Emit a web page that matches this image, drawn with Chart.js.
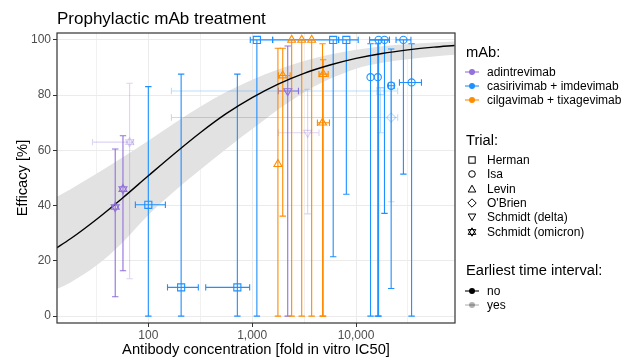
<!DOCTYPE html>
<html>
<head>
<meta charset="utf-8">
<script src="https://cdn.jsdelivr.net/npm/chart.js@4.4.1/dist/chart.umd.min.js"></script>
<style>
  html, body { margin: 0; padding: 0; background: #fff; }
  #wrap { position: relative; width: 635px; height: 362px; font-family: "Liberation Sans", Arial, Helvetica, sans-serif; }
  #chart { position: absolute; left: 0; top: 0; }
  .lg { position: absolute; left: 466px; white-space: nowrap; color: #000; }
  .lt { font-size: 14.7px; line-height: 17px; }
  .li { font-size: 12px; line-height: 14px; left: 465px; display: flex; align-items: center; }
  .li svg { margin-right: 8px; }
</style>
</head>
<body>
<div id="wrap">
  <canvas id="chart" width="635" height="362"></canvas>
  <div id="legend"></div>
</div>
<script>
// labels
const titleText = 'Prophylactic mAb treatment';
const mAbs = ['adintrevimab', 'casirivimab + imdevimab', 'cilgavimab + tixagevimab'];
const trials = ['Herman', 'Isa', 'Levin', "O'Brien", 'Schmidt (delta)', 'Schmidt (omicron)'];
const earliestLabels = ['no', 'yes'];

// observations: concentration (fold IC50) with range, efficacy (%) with range
const conc   = [48, 57, 66, 2200, 3420, 100, 207, 720, 1110, 6030, 8070, 13800, 16200, 16500, 18800, 21800, 28600, 34300, 17200, 21800, 1770, 1970, 2400, 3000, 3740, 4830, 4760];
const concLo = [null, null, 29, 1790, 1790, 75, 153, 357, 959, 1575, 6800, null, null, 13500, 13500, 20500, 24300, 26200, 167, 167, null, 1790, null, null, null, 4400, 4250];
const concHi = [null, null, 72, 2790, 4400, 146, 303, 946, 1575, 6800, 10500, null, null, 21000, 21000, 23300, 33800, 42700, 25200, 25200, null, 2320, null, null, null, 5400, 5550];
const eff    = [39.5, 46, 63, 81.5, 66.4, 40.3, 10.4, 10.4, 100, 100, 100, 86.5, 86.5, 100, 100, 83.4, 100, 84.6, 81.5, 71.9, 55, 87.1, 100, 100, 100, 87.6, 70];
const effLo  = [7, 16.4, 13.5, 0, 37, 0, 0, 0, 0, 21.5, 44.1, 0, 0, 0, 37.2, 10, 51.4, 0, 66.4, 41.4, 0, 36.2, 0, 0, 0, 0, 0];
const effHi  = [60.5, 65.3, 84.3, 97.8, 82.1, 83.1, 87.6, 87.6, 100, 100, 100, 98.6, 98.6, 100, 100, 96.7, 100, 98.6, 82.6, 82.5, 97, 97, 100, 100, 100, 92.8, 98.6];
const mAb    = [0, 0, 0, 0, 0, 1, 1, 1, 1, 1, 1, 1, 1, 1, 1, 1, 1, 1, 1, 1, 2, 2, 2, 2, 2, 2, 2];
const trial  = [5, 5, 5, 4, 4, 0, 0, 0, 0, 0, 0, 1, 1, 1, 1, 1, 1, 1, 0, 3, 2, 2, 2, 2, 2, 2, 2];
const early  = [0, 0, 1, 0, 1, 0, 0, 0, 0, 0, 0, 0, 0, 0, 0, 0, 0, 0, 1, 1, 0, 0, 0, 0, 0, 0, 0];

// fitted curve and its band
const curveX = [12.6, 17.8, 31.6, 56.2, 100, 178, 316, 562, 1000, 1780, 3160, 5620, 10000, 17800, 31600, 56200, 89100];
const curveY = [24.3, 28.0, 35.0, 42.7, 50.8, 58.8, 66.4, 73.3, 79.1, 84.0, 87.9, 90.9, 93.3, 95.1, 96.4, 97.4, 98.0];
const bandLo = [9.5, 12.2, 18.3, 26.6, 36.6, 45.2, 53.0, 60.5, 67.7, 74.8, 81.0, 85.9, 89.6, 91.7, 93.0, 94.0, 94.6];
const bandHi = [42.8, 45.9, 51.5, 57.4, 63.5, 69.8, 75.8, 81.1, 85.6, 89.3, 92.4, 94.7, 96.4, 97.7, 98.5, 99.1, 99.4];

// axes
const xTickValues = [100, 1000, 10000];
const xTickLabels = ['100', '1,000', '10,000'];
const xMinorGrid = [31.6, 316, 3162, 31623];
const yTickValues = [0, 20, 40, 60, 80, 100];

const mAbColors = ['#9370DB', '#1E90FF', '#FF8C00'];
const faintAlpha = 0.3;

function rgba(hex, a) {
  const n = parseInt(hex.slice(1), 16);
  return 'rgba(' + (n >> 16) + ',' + ((n >> 8) & 255) + ',' + (n & 255) + ',' + a + ')';
}
function colorOf(i) {
  return rgba(mAbColors[mAb[i]], early[i] ? faintAlpha : 1);
}

const font = '"Liberation Sans", Arial, Helvetica, sans-serif';

// point shapes per trial: [style, rotation, radius]
const trialShapes = [
  ['rect', 0, 5],
  ['circle', 0, 3.6],
  ['triangle', 0, 4.6],
  ['rectRot', 0, 4.6],
  ['triangle', 180, 4.6],
  ['triangle', 0, 4.6]
];

const datasets = [
  { type: 'line', data: curveX.map((v, i) => ({ x: v, y: bandLo[i] })), borderColor: 'rgba(0,0,0,0)', borderWidth: 0,
    pointRadius: 0, fill: false, cubicInterpolationMode: 'monotone', order: 30 },
  { type: 'line', data: curveX.map((v, i) => ({ x: v, y: bandHi[i] })), borderColor: 'rgba(0,0,0,0)', borderWidth: 0,
    pointRadius: 0, fill: '-1', backgroundColor: '#e2e2e2', cubicInterpolationMode: 'monotone', order: 20 },
  { type: 'line', data: curveX.map((v, i) => ({ x: v, y: curveY[i] })), borderColor: '#000', borderWidth: 1.4,
    pointRadius: 0, fill: false, cubicInterpolationMode: 'monotone', order: 10 }
];

function pointSet(t, rotation) {
  const pts = [];
  conc.forEach((c, i) => { if (trial[i] === t) pts.push({ x: c, y: eff[i], i: i }); });
  return {
    type: 'scatter',
    data: pts,
    pointStyle: trialShapes[t][0],
    pointRotation: rotation,
    pointRadius: trialShapes[t][2],
    pointBorderWidth: 1.1,
    pointBackgroundColor: 'rgba(0,0,0,0)',
    pointBorderColor: ctx => ctx.raw ? colorOf(ctx.raw.i) : '#000',
    order: 0
  };
}
trials.forEach((t, k) => datasets.push(pointSet(k, trialShapes[k][1])));
// omicron marker: triangle up and down
datasets.push(pointSet(5, 180));

const errorBars = {
  id: 'errorBars',
  afterDatasetDraw(chart, args) {
    if (args.index !== 1) return;
    const { ctx, chartArea: a, scales: { x, y } } = chart;
    const cap = 3.2;
    ctx.save();
    ctx.beginPath();
    ctx.rect(a.left, a.top, a.right - a.left, a.bottom - a.top);
    ctx.clip();
    ctx.lineWidth = 1.1;
    conc.forEach((c, i) => {
      ctx.strokeStyle = colorOf(i);
      const px = x.getPixelForValue(c);
      const py = y.getPixelForValue(eff[i]);
      const y0 = y.getPixelForValue(effLo[i]);
      const y1 = y.getPixelForValue(effHi[i]);
      ctx.beginPath();
      ctx.moveTo(px, y0); ctx.lineTo(px, y1);
      ctx.moveTo(px - cap, y0); ctx.lineTo(px + cap, y0);
      ctx.moveTo(px - cap, y1); ctx.lineTo(px + cap, y1);
      if (concLo[i] != null) {
        const x0 = x.getPixelForValue(concLo[i]);
        const x1 = x.getPixelForValue(concHi[i]);
        ctx.moveTo(x0, py); ctx.lineTo(x1, py);
        ctx.moveTo(x0, py - cap); ctx.lineTo(x0, py + cap);
        ctx.moveTo(x1, py - cap); ctx.lineTo(x1, py + cap);
      }
      ctx.stroke();
    });
    ctx.restore();
  }
};

const frame = {
  id: 'frame',
  afterDraw(chart) {
    const { ctx, chartArea: a } = chart;
    ctx.save();
    ctx.strokeStyle = '#333333';
    ctx.lineWidth = 1.2;
    ctx.strokeRect(a.left, a.top, a.right - a.left, a.bottom - a.top);
    ctx.fillStyle = '#000';
    ctx.font = '17px ' + font;
    ctx.textAlign = 'left';
    ctx.textBaseline = 'alphabetic';
    ctx.fillText(titleText, a.left, 24);
    ctx.restore();
  }
};

new Chart(document.getElementById('chart').getContext('2d'), {
  type: 'scatter',
  data: { datasets: datasets },
  plugins: [errorBars, frame],
  options: {
    responsive: false,
    animation: false,
    layout: { padding: { top: 33, right: 180, bottom: 0, left: 0 } },
    plugins: { legend: { display: false }, tooltip: { enabled: false } },
    scales: {
      x: {
        type: 'logarithmic',
        min: 13.2,
        max: 89800,
        afterBuildTicks: s => {
          s.ticks = xMinorGrid.concat(xTickValues).sort((p, q) => p - q).map(v => ({ value: v }));
        },
        afterFit: s => { s.height = 39; },
        border: { display: false },
        grid: {
          color: '#ebebeb',
          lineWidth: ctx => (ctx.tick && xTickValues.includes(ctx.tick.value)) ? 1 : 0.7,
          tickColor: ctx => (ctx.tick && xTickValues.includes(ctx.tick.value)) ? '#333333' : 'rgba(0,0,0,0)',
          tickLength: 4
        },
        ticks: {
          autoSkip: false,
          maxRotation: 0,
          padding: 1,
          color: '#4d4d4d',
          font: { family: font, size: 12 },
          callback: v => {
            const k = xTickValues.indexOf(v);
            return k >= 0 ? xTickLabels[k] : '';
          }
        },
        title: {
          display: true,
          text: 'Antibody concentration [fold in vitro IC50]',
          color: '#000',
          font: { family: font, size: 14.7 },
          padding: { top: 0, bottom: 3 }
        }
      },
      y: {
        min: -2.5,
        max: 102.5,
        afterBuildTicks: s => { s.ticks = yTickValues.map(v => ({ value: v })); },
        afterFit: s => { s.width = 57; },
        border: { display: false },
        grid: { color: '#ebebeb', lineWidth: 1, tickColor: '#333333', tickLength: 4 },
        ticks: { padding: 2, color: '#4d4d4d', font: { family: font, size: 12 } },
        title: {
          display: true,
          text: 'Efficacy [%]',
          color: '#000',
          font: { family: font, size: 14.7 },
          padding: { top: 14, bottom: 0 }
        }
      }
    }
  }
});

// legend
const legend = document.getElementById('legend');
function addTitle(text, center) {
  const d = document.createElement('div');
  d.className = 'lg lt';
  d.style.top = (center - 8.5) + 'px';
  d.textContent = text;
  legend.appendChild(d);
}
function addItem(text, center, svg) {
  const d = document.createElement('div');
  d.className = 'lg li';
  d.style.top = (center - 7) + 'px';
  d.innerHTML = svg;
  d.appendChild(document.createTextNode(text));
  legend.appendChild(d);
}
function dotKey(color) {
  return '<svg width="14" height="10" viewBox="0 0 14 10"><line x1="0" y1="5" x2="14" y2="5" stroke="' + color +
    '" stroke-width="1.1"/><circle cx="7" cy="5" r="3" fill="' + color + '"/></svg>';
}
const shapeSvg = [
  '<rect x="3.8" y="1.8" width="6.4" height="6.4"/>',
  '<circle cx="7" cy="5" r="3.3"/>',
  '<polygon points="7,1.2 10.8,8 3.2,8"/>',
  '<polygon points="7,0.8 11.2,5 7,9.2 2.8,5"/>',
  '<polygon points="7,8.8 10.8,2 3.2,2"/>',
  '<polygon points="7,0.8 10.8,7.4 3.2,7.4"/><polygon points="7,9.2 10.8,2.6 3.2,2.6"/>'
];
function shapeKey(k) {
  return '<svg width="14" height="10" viewBox="0 0 14 10"><g fill="none" stroke="#000" stroke-width="1">' + shapeSvg[k] + '</g></svg>';
}
const mAbRows = [71.7, 85.5, 99.8];
const trialRows = [159.5, 174, 188.5, 203, 217.3, 231.7];
const earlyRows = [290.7, 305.3];
addTitle('mAb:', 52.7);
mAbs.forEach((m, k) => addItem(m, mAbRows[k], dotKey(mAbColors[k])));
addTitle('Trial:', 140);
trials.forEach((t, k) => addItem(t, trialRows[k], shapeKey(k)));
addTitle('Earliest time interval:', 270.7);
earliestLabels.forEach((e, k) => addItem(e, earlyRows[k], dotKey(k ? rgba('#000000', faintAlpha) : '#000')));
</script>
</body>
</html>
